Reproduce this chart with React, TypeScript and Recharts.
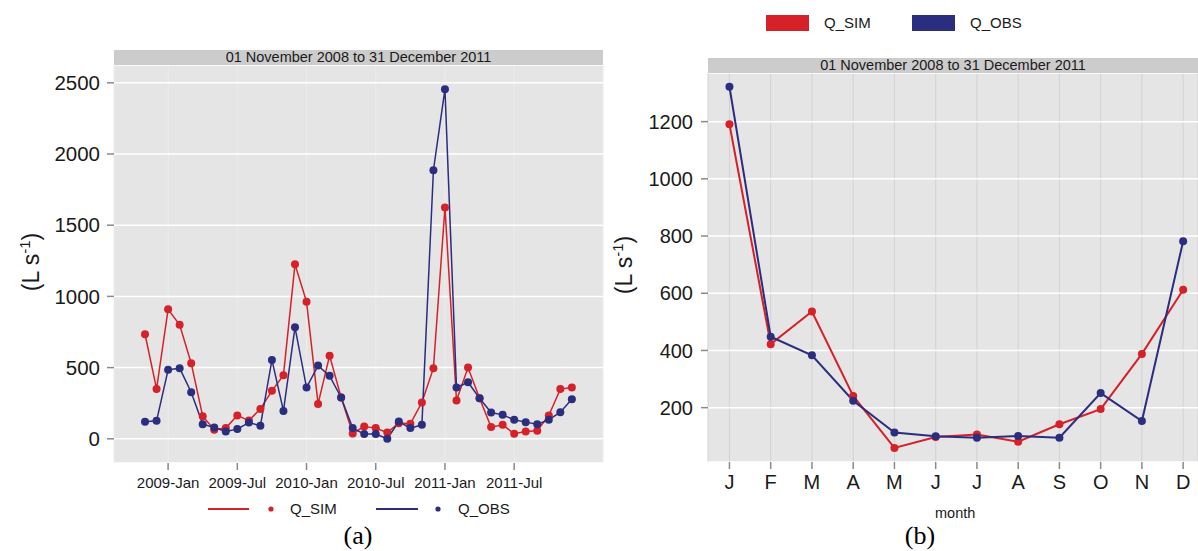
import { CartesianGrid, Line, LineChart, XAxis, YAxis } from "recharts";

// monthly discharge, Nov 2008 .. Dec 2011
const simSeries = [734, 350, 909, 800, 531, 159, 63, 75, 164, 128, 210, 337, 447, 1225, 963, 245, 584, 290, 38, 86, 75, 44, 110, 105, 255, 496, 1625, 269, 500, 285, 82, 98, 35, 51, 56, 164, 349, 360];
const obsSeries = [119, 126, 484, 496, 327, 103, 79, 51, 68, 114, 91, 554, 196, 783, 360, 514, 442, 290, 75, 33, 33, 0, 121, 75, 98, 1886, 2455, 360, 397, 285, 185, 168, 133, 117, 103, 133, 187, 278];
const timeTickIdx = [2, 8, 14, 20, 26, 32];
const timeTickLabels = ["2009-Jan", "2009-Jul", "2010-Jan", "2010-Jul", "2011-Jan", "2011-Jul"];
const leftYTicks = [0, 500, 1000, 1500, 2000, 2500];

// monthly regime
const monthLabels = ["J", "F", "M", "A", "M", "J", "J", "A", "S", "O", "N", "D"];
const simMonthly = [1191, 422, 536, 241, 59, 97, 106, 81, 142, 195, 388, 612];
const obsMonthly = [1322, 448, 383, 224, 113, 100, 95, 101, 95, 251, 153, 782];
const rightYTicks = [200, 400, 600, 800, 1000, 1200];

const stripTitle = "01 November 2008 to 31 December 2011";

const RED = "#d62128";
const BLUE = "#2b2d7f";
const FONT = "'Liberation Sans', Arial, sans-serif";
const tickLine = { stroke: "#8a8a8a", strokeWidth: 1.5 };

const leftData = simSeries.map((v, i) => ({ i, sim: v, obs: obsSeries[i] }));
const rightData = simMonthly.map((v, i) => ({ i, sim: v, obs: obsMonthly[i] }));

function Strip({ left, top, width }: { left: number; top: number; width: number }) {
  return (
    <div
      style={{
        position: "absolute",
        left,
        top,
        width,
        height: 15,
        background: "#cccccc",
        color: "#1a1a1a",
        fontFamily: FONT,
        fontSize: 14.5,
        lineHeight: "15px",
        textAlign: "center",
      }}
    >
      {stripTitle}
    </div>
  );
}

function YLabel({ cx, cy }: { cx: number; cy: number }) {
  return (
    <div
      style={{
        position: "absolute",
        left: cx - 50,
        top: cy - 16,
        width: 100,
        height: 32,
        lineHeight: "32px",
        textAlign: "center",
        transform: "rotate(-90deg)",
        fontFamily: FONT,
        fontSize: 23,
        color: "#1a1a1a",
      }}
    >
      (L s<sup style={{ fontSize: 15, verticalAlign: 9 }}>-1</sup>)
    </div>
  );
}

function txt(left: number, top: number, s: string, size = 14.5) {
  return (
    <div
      style={{
        position: "absolute",
        left,
        top: top - 10,
        height: 20,
        lineHeight: "20px",
        fontFamily: FONT,
        fontSize: size,
        color: "#1a1a1a",
        whiteSpace: "nowrap",
      }}
    >
      {s}
    </div>
  );
}

export default function App() {
  return (
    <div style={{ position: "absolute", left: 0, top: 0, width: 1198, height: 551, background: "#fff", overflow: "hidden" }}>
      <div style={{ position: "absolute", left: 0, top: 0 }}>
        <LineChart width={610} height={551} data={leftData} margin={{ top: 65, right: 7, bottom: 58, left: 54 }}>
          <CartesianGrid horizontal={false} fill="#e5e5e5" stroke="#ececec" strokeWidth={1} />
          <CartesianGrid vertical={false} stroke="#ffffff" strokeWidth={1.5} />
          <XAxis
            dataKey="i"
            type="number"
            domain={[-2.69, 39.7]}
            ticks={timeTickIdx}
            tickFormatter={(v) => timeTickLabels[timeTickIdx.indexOf(v)] ?? ""}
            axisLine={false}
            tickLine={tickLine}
            tickSize={7}
            tickMargin={7}
            height={30}
            interval={0}
            tick={{ fill: "#1a1a1a", fontSize: 15, fontFamily: FONT }}
          />
          <YAxis
            type="number"
            domain={[-170, 2625]}
            ticks={leftYTicks}
            axisLine={false}
            tickLine={tickLine}
            tickSize={7}
            tickMargin={7}
            width={60}
            interval={0}
            tick={{ fill: "#1a1a1a", fontSize: 20.5, fontFamily: FONT }}
          />
          <Line dataKey="sim" stroke={RED} strokeWidth={1.5} dot={false} activeDot={false} isAnimationActive={false} />
          <Line dataKey="obs" stroke={BLUE} strokeWidth={1.5} dot={false} activeDot={false} isAnimationActive={false} />
          <Line dataKey="sim" stroke="none" dot={{ r: 4, fill: RED, stroke: RED, strokeWidth: 0 }} activeDot={false} isAnimationActive={false} />
          <Line dataKey="obs" stroke="none" dot={{ r: 4, fill: BLUE, stroke: BLUE, strokeWidth: 0 }} activeDot={false} isAnimationActive={false} />
        </LineChart>
      </div>

      <div style={{ position: "absolute", left: 600, top: 0 }}>
        <LineChart width={598} height={551} data={rightData} margin={{ top: 73, right: 0, bottom: 59, left: 48 }}>
          <CartesianGrid horizontal={false} fill="#e5e5e5" stroke="#d2d2d2" strokeWidth={1} />
          <CartesianGrid vertical={false} stroke="#ffffff" strokeWidth={1.5} />
          <XAxis
            dataKey="i"
            type="number"
            domain={[-0.52, 11.36]}
            ticks={monthLabels.map((_, i) => i)}
            tickFormatter={(v) => monthLabels[v] ?? ""}
            axisLine={false}
            tickLine={tickLine}
            tickSize={7}
            tickMargin={6}
            height={30}
            interval={0}
            tick={{ fill: "#1a1a1a", fontSize: 20, fontFamily: FONT }}
          />
          <YAxis
            type="number"
            domain={[10, 1370]}
            ticks={rightYTicks}
            axisLine={false}
            tickLine={tickLine}
            tickSize={7}
            tickMargin={8}
            width={60}
            interval={0}
            tick={{ fill: "#1a1a1a", fontSize: 20, fontFamily: FONT }}
          />
          <Line dataKey="sim" stroke={RED} strokeWidth={2} dot={false} activeDot={false} isAnimationActive={false} />
          <Line dataKey="obs" stroke={BLUE} strokeWidth={2} dot={false} activeDot={false} isAnimationActive={false} />
          <Line dataKey="sim" stroke="none" dot={{ r: 4, fill: RED, stroke: RED, strokeWidth: 0 }} activeDot={false} isAnimationActive={false} />
          <Line dataKey="obs" stroke="none" dot={{ r: 4, fill: BLUE, stroke: BLUE, strokeWidth: 0 }} activeDot={false} isAnimationActive={false} />
        </LineChart>
      </div>

      <Strip left={114} top={50} width={489} />
      <Strip left={708} top={58} width={490} />

      <YLabel cx={25} cy={262} />
      <YLabel cx={618} cy={265} />

      {/* legend keys */}
      <svg style={{ position: "absolute", left: 0, top: 0 }} width={1198} height={551}>
        <line x1={208} x2={249} y1={509} y2={509} stroke={RED} strokeWidth={2} />
        <circle cx={271} cy={509} r={2.6} fill={RED} />
        <line x1={376} x2={418} y1={509} y2={509} stroke={BLUE} strokeWidth={2} />
        <circle cx={438} cy={509} r={2.6} fill={BLUE} />
        <rect x={766} y={15} width={43} height={16} fill={RED} />
        <rect x={912} y={15} width={43} height={16} fill={BLUE} />
      </svg>
      {txt(290, 509, "Q_SIM", 15)}
      {txt(458, 509, "Q_OBS", 15)}
      {txt(824, 23, "Q_SIM", 15)}
      {txt(970, 23, "Q_OBS", 15)}
      {txt(935, 513, "month", 14.5)}

      <div style={{ position: "absolute", left: 308, top: 520, width: 100, textAlign: "center", fontFamily: "'Liberation Serif', 'Times New Roman', serif", fontSize: 26, lineHeight: "32px" }}>(a)</div>
      <div style={{ position: "absolute", left: 870, top: 520, width: 100, textAlign: "center", fontFamily: "'Liberation Serif', 'Times New Roman', serif", fontSize: 26, lineHeight: "32px" }}>(b)</div>
    </div>
  );
}
